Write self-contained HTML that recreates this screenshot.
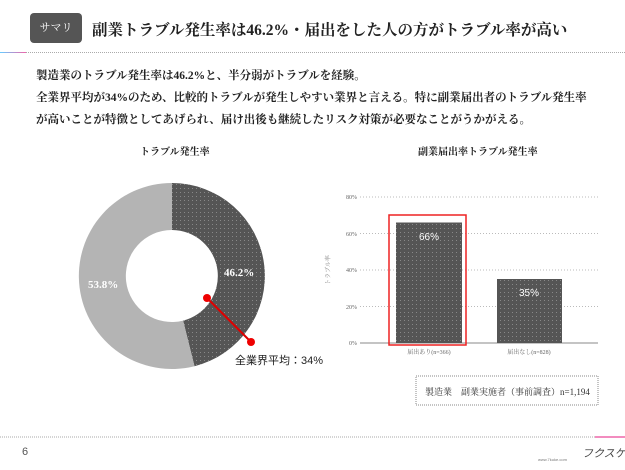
<!DOCTYPE html><html><head><meta charset="utf-8"><style>
body{margin:0;width:625px;height:470px;background:#fff;position:relative;overflow:hidden;font-family:"Liberation Serif","Noto Serif CJK SC",serif;color:#222}
.a{position:absolute;white-space:nowrap}
</style></head><body>
<div class="a" style="left:30px;top:13px;width:52px;height:30px;background:#555;border-radius:4px;color:#fff;font-size:11px;line-height:30px;text-align:center">サマリ</div>
<div class="a" style="left:92px;top:18px;font-size:15.5px;font-weight:bold;color:#222">副業トラブル発生率は46.2%・届出をした人の方がトラブル率が高い</div>
<div class="a" style="left:0;top:52px;width:625px;border-top:1px dotted #aaa"></div>
<div class="a" style="left:0;top:52px;width:26px;height:1px;background:linear-gradient(90deg,#6cf,#e6a)"></div>
<div class="a" style="left:36px;top:65px;font-size:11.5px;line-height:22px;font-weight:bold">製造業のトラブル発生率は46.2%と、半分弱がトラブルを経験。<br>全業界平均が34%のため、比較的トラブルが発生しやすい業界と言える。特に副業届出者のトラブル発生率<br>が高いことが特徴としてあげられ、届け出後も継続したリスク対策が必要なことがうかがえる。</div>
<div class="a" style="left:140px;top:143px;font-size:10px;font-weight:bold">トラブル発生率</div>
<div class="a" style="left:418px;top:143px;font-size:10px;font-weight:bold">副業届出率トラブル発生率</div>
<svg class="a" style="left:0;top:0" width="625" height="470">
<defs><pattern id="d" width="4" height="4" patternUnits="userSpaceOnUse"><rect width="4" height="4" fill="#555"/><rect width="1" height="1" fill="#888"/></pattern></defs>
<path d="M172,183 A93,93 0 0 1 194.5,366.2 L183.1,320.6 A46,46 0 0 0 172,230 Z" fill="url(#d)"/>
<path d="M194.5,366.2 A93,93 0 1 1 172,183 L172,230 A46,46 0 1 0 183.1,320.6 Z" fill="#b4b4b4"/>
<text x="224" y="276" fill="#fff" font-size="11" font-weight="bold">46.2%</text>
<text x="88" y="288" fill="#fff" font-size="11" font-weight="bold">53.8%</text>
<line x1="207" y1="298" x2="251" y2="342" stroke="#d00" stroke-width="2"/>
<circle cx="207" cy="298" r="4" fill="#e00"/><circle cx="251" cy="342" r="4" fill="#e00"/>
<text x="235" y="364" font-size="11" font-family="Liberation Sans,Noto Sans CJK JP,sans-serif" fill="#222">全業界平均：34%</text>
<g stroke="#bbb" stroke-dasharray="1,2"><line x1="360" y1="197" x2="598" y2="197"/><line x1="360" y1="233.5" x2="598" y2="233.5"/><line x1="360" y1="270" x2="598" y2="270"/><line x1="360" y1="306.5" x2="598" y2="306.5"/></g>
<line x1="360" y1="343" x2="598" y2="343" stroke="#888"/>
<g font-size="6" fill="#666" text-anchor="end"><text x="357" y="199">80%</text><text x="357" y="236">60%</text><text x="357" y="272">40%</text><text x="357" y="309">20%</text><text x="357" y="345">0%</text></g>
<text x="0" y="0" font-size="6" fill="#888" transform="translate(330,270) rotate(-90)" text-anchor="middle">トラブル率</text>
<rect x="396" y="222.5" width="66" height="120.5" fill="url(#d)"/>
<rect x="497" y="279" width="65" height="64" fill="url(#d)"/>
<rect x="389" y="215" width="77" height="130" fill="none" stroke="#e22" stroke-width="1.5"/>
<text x="429" y="240" fill="#fff" font-size="10" text-anchor="middle" font-family="Liberation Sans,sans-serif">66%</text>
<text x="529" y="296" fill="#fff" font-size="10" text-anchor="middle" font-family="Liberation Sans,sans-serif">35%</text>
<g font-size="6" fill="#666" text-anchor="middle"><text x="429" y="354">届出あり(n=366)</text><text x="529" y="354">届出なし(n=828)</text></g>
<rect x="416" y="376" width="182" height="29" fill="none" stroke="#888" stroke-dasharray="1,1"/>
<text x="425" y="395" font-size="9" fill="#333">製造業　副業実施者（事前調査）n=1,194</text>
<line x1="0" y1="437" x2="625" y2="437" stroke="#aaa" stroke-dasharray="1,1"/>
<line x1="595" y1="437" x2="625" y2="437" stroke="#e6a" stroke-width="1.5"/>
<text x="22" y="455" font-size="11" fill="#555" font-family="Liberation Sans,sans-serif">6</text>
<text x="538" y="461" font-size="4" fill="#777" font-family="Liberation Sans,sans-serif">www.7kuke.com</text>
<text x="582" y="457" font-size="11" fill="#444" font-style="italic" font-family="Liberation Sans,Noto Sans CJK JP,sans-serif">フクスケ</text>
</svg>
</body></html>
